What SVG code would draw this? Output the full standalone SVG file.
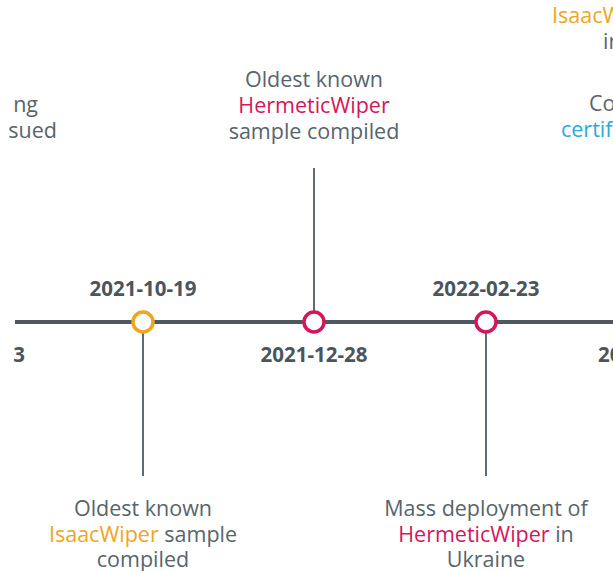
<svg xmlns="http://www.w3.org/2000/svg" width="613" height="571" viewBox="0 0 613 571">
<style>
.t{font-family:"Open Sans","Noto Sans",sans-serif;font-size:21.5px;fill:#58646d;text-anchor:middle}
.d{font-family:"Open Sans","Noto Sans",sans-serif;font-size:20.5px;font-weight:bold;fill:#4a555e;text-anchor:middle}
.o{fill:#f0a51e}.r{fill:#d3175a}.b{fill:#2aa9e0}
.ln{stroke:#5f6a72;stroke-width:2}
</style>
<rect width="613" height="571" fill="#ffffff"/>
<g id="connectors">
<line x1="15" y1="322" x2="613" y2="322" stroke="#4d5962" stroke-width="4"/>
<line class="ln" x1="314" y1="168" x2="314" y2="311"/>
<line class="ln" x1="143" y1="333" x2="143" y2="476"/>
<line class="ln" x1="486" y1="333" x2="486" y2="476"/>
</g>
<g id="left-partial">
<text class="t" x="38" y="112" style="text-anchor:end">ng</text>
<text class="t" x="57" y="138" style="text-anchor:end">sued</text>
<text class="d" x="25" y="362" style="text-anchor:end">3</text>
</g>
<g id="ev-2021-10-19">
<circle cx="143" cy="322" r="10" fill="#fff" stroke="#f0a51e" stroke-width="3.5"/>
<text class="d" x="143" y="296">2021-10-19</text>
<text class="t" x="143" y="516">Oldest known</text>
<text class="t" x="143" y="542"><tspan class="o">IsaacWiper</tspan> sample</text>
<text class="t" x="143" y="567">compiled</text>
</g>
<g id="ev-2021-12-28">
<circle cx="314" cy="322" r="10" fill="#fff" stroke="#d3175a" stroke-width="3.5"/>
<text class="d" x="314" y="362">2021-12-28</text>
<text class="t" x="314" y="87">Oldest known</text>
<text class="t r" x="314" y="113">HermeticWiper</text>
<text class="t" x="314" y="139">sample compiled</text>
</g>
<g id="ev-2022-02-23">
<circle cx="486" cy="322" r="10" fill="#fff" stroke="#d3175a" stroke-width="3.5"/>
<text class="d" x="486" y="296">2022-02-23</text>
<text class="t" x="486" y="516">Mass deployment of</text>
<text class="t" x="486" y="542"><tspan class="r">HermeticWiper</tspan> in</text>
<text class="t" x="486" y="567">Ukraine</text>
</g>
<g id="right-partial">
<text class="d" x="598" y="362" style="text-anchor:start">20</text>
<text class="t o" x="552" y="23" style="text-anchor:start">IsaacW</text>
<text class="t" x="603" y="49" style="text-anchor:start">in</text>
<text class="t" x="589" y="111" style="text-anchor:start">Co</text>
<text class="t b" x="561" y="137" style="text-anchor:start">certif</text>
</g>
</svg>
